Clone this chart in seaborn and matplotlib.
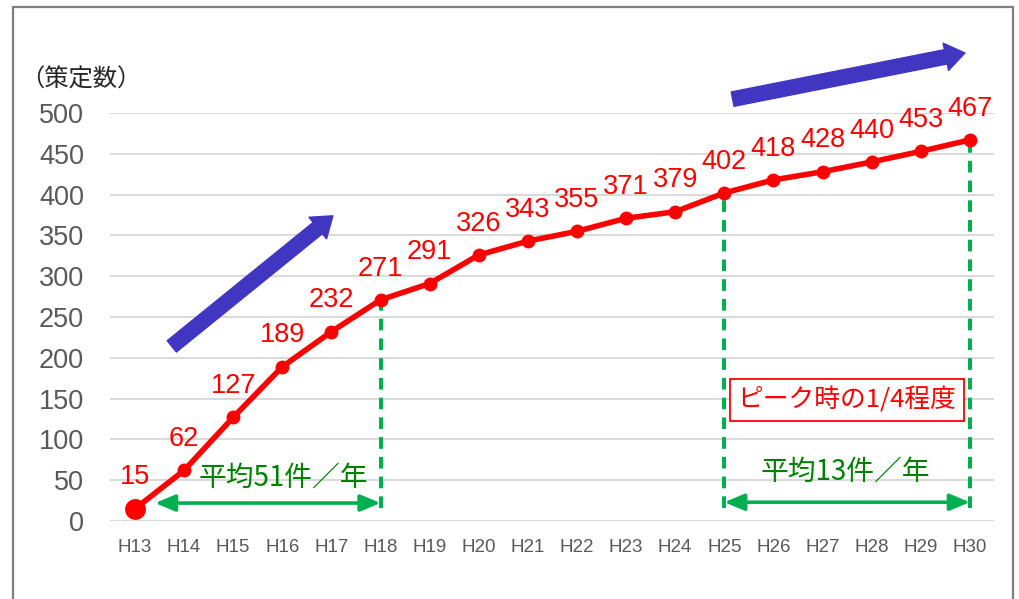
import matplotlib
matplotlib.use("Agg")
import matplotlib.pyplot as plt
import seaborn as sns
import pandas as pd
from matplotlib.patches import Rectangle

years = ["H13", "H14", "H15", "H16", "H17", "H18", "H19", "H20", "H21", "H22",
         "H23", "H24", "H25", "H26", "H27", "H28", "H29", "H30"]
counts = [15, 62, 127, 189, 232, 271, 291, 326, 343, 355, 371, 379, 402, 418,
          428, 440, 453, 467]
y_ticks = [0, 50, 100, 150, 200, 250, 300, 350, 400, 450, 500]
y_title = "（策定数）"
avg_early = "平均51件／年"
avg_late = "平均13件／年"
peak_note = "ピーク時の1/4程度"
mark_years = ["H18", "H25", "H30"]

sns.set_theme(style="white")
plt.rcParams["font.family"] = ["Liberation Sans", "Noto Sans CJK JP", "DejaVu Sans"]

df = pd.DataFrame({"year": years, "count": counts})

fig = plt.figure(figsize=(10.19, 5.99), dpi=100)
ax = fig.add_axes([110.4 / 1019, 78 / 599, 884 / 1019, 408 / 599])

RED = "#FF0000"
GREEN = "#00B050"
DKGREEN = "#008000"
BLUE = "#4136C2"
CJK = ["Noto Sans CJK JP", "Liberation Sans"]

# grid
for t in y_ticks:
    ax.axhline(t, color="#D9D9D9", lw=1.4, zorder=0)

# dashed verticals
for yr in mark_years:
    i = years.index(yr)
    ax.vlines(i, 16, counts[i], colors=GREEN, lw=2.9, linestyles=(0, (2.9, 2.0)), zorder=2)

sns.lineplot(data=df, x="year", y="count", ax=ax, color=RED, lw=4.0,
             marker="o", markersize=10, markeredgewidth=0, sort=False, zorder=4)
ax.plot([0], [counts[0]], "o", color=RED, markersize=15, markeredgewidth=0, zorder=5)

for i, v in enumerate(counts):
    ax.annotate(str(v), (i, v), xytext=(0, 17.5), textcoords="offset points",
                ha="center", va="baseline", color=RED, fontsize=19.5, zorder=6)

ax.set_xlim(-0.5, len(years) - 0.5)
ax.set_ylim(0, 500)
ax.set_yticks(y_ticks)
ax.set_xlabel("")
ax.set_ylabel("")
for s in ax.spines.values():
    s.set_visible(False)
ax.tick_params(axis="y", length=0, pad=19, labelsize=19.5, labelcolor="#595959")
ax.tick_params(axis="x", length=0, pad=13, labelsize=13.5, labelcolor="#595959")

# green double arrows
i18, i25, i30 = (years.index(y) for y in mark_years)
arrow_kw = dict(arrowstyle="<|-|>,head_length=1.2,head_width=0.5", color=GREEN,
                lw=2.6, shrinkA=0, shrinkB=0, mutation_scale=10)
ax.annotate("", xy=(i18, 22), xytext=(0.41, 22), arrowprops=arrow_kw, zorder=3)
ax.annotate("", xy=(i30, 23), xytext=(i25, 23), arrowprops=arrow_kw, zorder=3)

ax.text(3.02, 53, avg_early, ha="center", va="center", color=DKGREEN, fontsize=20,
        family=CJK, zorder=6)
ax.text(14.47, 60, avg_late, ha="center", va="center", color=DKGREEN, fontsize=20,
        family=CJK, zorder=6)

ax.text(14.5, 148, peak_note, ha="center", va="center", color=RED, fontsize=18.5,
        family=CJK, zorder=6,
        bbox=dict(boxstyle="square,pad=0.3", fc="white", ec=RED, lw=1.3))

# blue trend arrows
blue_kw = dict(arrowstyle="simple,head_width=20,head_length=14,tail_width=10.5",
               color=BLUE, shrinkA=0, shrinkB=0, mutation_scale=1)
ax.annotate("", xy=(4.03, 374), xytext=(0.75, 214), arrowprops=blue_kw,
            annotation_clip=False, zorder=7)
ax.annotate("", xy=(16.9, 573.5), xytext=(12.17, 517), arrowprops=blue_kw,
            annotation_clip=False, zorder=7)

fig.text(20 / 1019, 1 - 80 / 599, y_title, ha="left", va="center", fontsize=17.5,
         color="#262626", family=CJK)

# outer frame
fig.patches.append(Rectangle((13 / 1019, -0.1), 1000 / 1019, 1.1 - 7 / 599,
                             transform=fig.transFigure, fill=False,
                             ec="#7F7F7F", lw=1.6))

fig.savefig("out.png", dpi=100)
